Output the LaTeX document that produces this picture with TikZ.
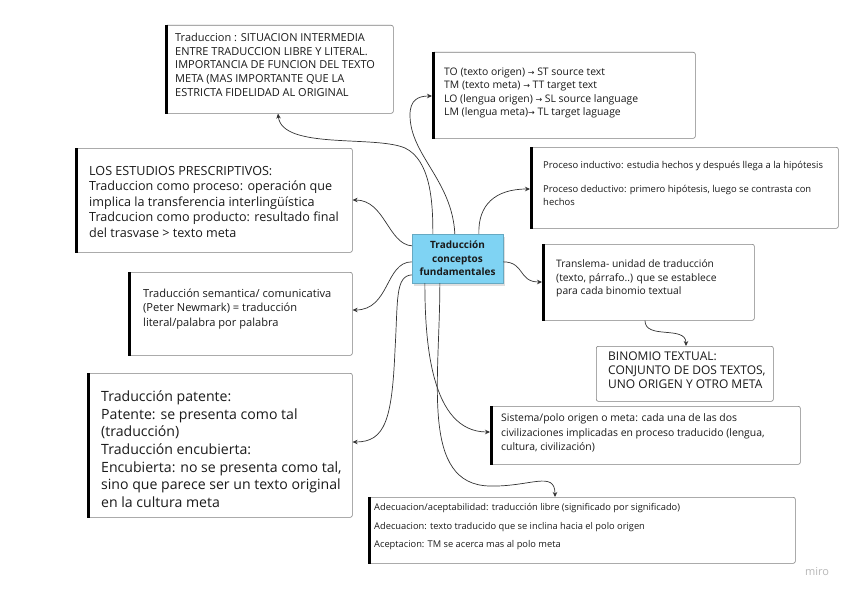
\documentclass[tikz,border=0pt]{standalone}
\usepackage{fontspec}
\setmainfont{Open Sans}
\newfontfamily\dv{DejaVu Sans}
\usetikzlibrary{arrows.meta,shadows,calc}
\definecolor{cblue}{HTML}{7FD3F3}
\definecolor{bord}{HTML}{7E7E7E}
\definecolor{conn}{HTML}{333333}
\definecolor{ink}{HTML}{1A1A1A}
\tikzset{
 card/.style={draw=bord, line width=0.6pt, fill=white, rounded corners=2pt, anchor=north west, inner sep=0pt},
 bar/.style={line width=2.8pt, black},
 txt/.style={anchor=north west, inner sep=0pt, align=left, text=ink},
 link/.style={draw=conn, line width=0.7pt, -{Stealth[length=5pt,width=4.5pt]}},
 hub/.style={fill=cblue, draw=cblue!80!black, line width=0.3pt, minimum width=91pt, minimum height=49pt, inner sep=0pt, align=center,
   font=\fontsize{10}{13.5}\selectfont\bfseries, text=ink,
   drop shadow={opacity=0.25, shadow xshift=1.5pt, shadow yshift=-2.5pt}},
}
\newcommand\ar{{\dv\fontsize{8}{9}\selectfont →}}
\begin{document}
\begin{tikzpicture}[x=1pt,y=-1pt]
\useasboundingbox (0,0) rectangle (848,594);
\fill[white] (0,0) rectangle (848,594);

% boxes
\node[card, minimum width=228pt, minimum height=88pt] (b1) at (165,25) {};
\node[card, minimum width=263pt, minimum height=86pt] (b2) at (432,52) {};
\node[card, minimum width=277pt, minimum height=104pt] (b3) at (75,148) {};
\node[card, minimum width=308pt, minimum height=81pt] (b4) at (530,147) {};
\node[card, minimum width=224pt, minimum height=83pt] (b5) at (128,272) {};
\node[card, minimum width=212pt, minimum height=76pt] (b6) at (542,244) {};
\node[card, minimum width=177pt, minimum height=55pt] (b7) at (596,346) {};
\node[card, minimum width=265pt, minimum height=144pt] (b8) at (87,373) {};
\node[card, minimum width=310pt, minimum height=58pt] (b9) at (490,406) {};
\node[card, minimum width=427pt, minimum height=66pt] (b10) at (368,497) {};

\foreach \b in {b1,b2,b3,b4,b5,b6,b8,b9,b10}
  \draw[bar] ([xshift=1.4pt]\b.north west) -- ([xshift=1.4pt]\b.south west);

% hub
\node[hub] (c) at (457.5,258.5) {Traducción\\conceptos\\fundamentales};

% texts
\node[txt, font=\fontsize{11}{13.9}\selectfont] (t1) at (175,32.6) {Traduccion : SITUACION INTERMEDIA\\ENTRE TRADUCCION LIBRE Y LITERAL.\\IMPORTANCIA DE FUNCION DEL TEXTO\\META (MAS IMPORTANTE QUE LA\\ESTRICTA FIDELIDAD AL ORIGINAL};
\node[txt, font=\fontsize{10.4}{13.3}\selectfont] (t2) at (444,67.8) {TO (texto origen) \ar{} ST source text\\TM (texto meta) \ar{} TT target text\\LO (lengua origen) \ar{} SL source language\\LM (lengua meta)\ar{} TL target laguage};
\node[txt, font=\fontsize{12.6}{15.5}\selectfont] (t3) at (89,166) {LOS ESTUDIOS PRESCRIPTIVOS:\\Traduccion como proceso: operación que\\implica la transferencia interlingüística\\Tradcucion como producto: resultado final\\del trasvase > texto meta};
\node[txt, font=\fontsize{9.45}{13}\selectfont] (t4) at (543,161.3) {Proceso inductivo: estudia hechos y después llega a la hipótesis\\[11pt]Proceso deductivo: primero hipótesis, luego se contrasta con\\hechos};
\node[txt, font=\fontsize{11.1}{14.5}\selectfont] (t5) at (143,288.6) {Traducción semantica/ comunicativa\\(Peter Newmark) = traducción\\literal/palabra por palabra};
\node[txt, font=\fontsize{10.3}{13.5}\selectfont] (t6) at (556,259.9) {Translema- unidad de traducción\\(texto, párrafo..) que se establece\\para cada binomio textual};
\node[txt, font=\fontsize{12}{14}\selectfont] (t7) at (608,351.2) {BINOMIO TEXTUAL:\\CONJUNTO DE DOS TEXTOS,\\UNO ORIGEN Y OTRO META};
\node[txt, font=\fontsize{14.1}{17.7}\selectfont] (t8) at (101,390.4) {Traducción patente:\\Patente: se presenta como tal\\(traducción)\\Traducción encubierta:\\Encubierta: no se presenta como tal,\\sino que parece ser un texto original\\en la cultura meta};
\node[txt, font=\fontsize{10.4}{14.5}\selectfont] (t9) at (501,413.8) {Sistema/polo origen o meta: cada una de las dos\\civilizaciones implicadas en proceso traducido (lengua,\\cultura, civilización)};
\node[txt, font=\fontsize{9.3}{18.5}\selectfont] (t10) at (374,503.3) {Adecuacion/aceptabilidad: traducción libre (significado por significado)\\Adecuacion: texto traducido que se inclina hacia el polo origen\\Aceptacion: TM se acerca mas al polo meta};

\node[anchor=center, inner sep=0pt, text=black!28, font=\fontsize{11}{12}\selectfont] (wm) at (817,572) {miro};

% connectors
\draw[link] ($(c.north west)+(21,0)$) .. controls (433,200) and (430,160) .. (405,148) .. controls (375,135) and (282,150) .. ($(b1.south west)+(113,0)$);
\draw[link] ($(c.north west)+(43,0)$) .. controls (452,180) and (410,155) .. (410,115) .. controls (410,100) and (418,96) .. ($(b2.north west)+(0,44)$);
\draw[link] ($(c.north west)+(0,12)$) .. controls (388,244) and (385,200) .. ($(b3.north east)+(0,52)$);
\draw[link] ($(c.north west)+(67,0)$) .. controls (478,205) and (495,189) .. ($(b4.north west)+(0,42)$);
\draw[link] ($(c.north west)+(0,28)$) .. controls (385,262) and (390,310) .. ($(b5.north east)+(0,38)$);
\draw[link] ($(c.north east)+(0,28)$) .. controls (525,262) and (518,282) .. ($(b6.north west)+(0,38)$);
\draw[link] ($(b6.south west)+(103,0)$) .. controls (645,340) and (686,325) .. ($(b7.north west)+(90,0)$);
\draw[link] ($(c.north west)+(0,41)$) .. controls (395,276) and (398,300) .. (395,350) .. controls (392,420) and (385,442) .. ($(b8.north east)+(0,69)$);
\draw[link] ($(c.south west)+(13,0)$) .. controls (425,340) and (430,432) .. ($(b9.north west)+(0,26)$);
\draw[link] ($(c.south west)+(28,0)$) .. controls (440,380) and (420,485) .. (490,486) .. controls (530,487) and (555,470) .. ($(b10.north west)+(187,0)$);
\end{tikzpicture}
\end{document}
